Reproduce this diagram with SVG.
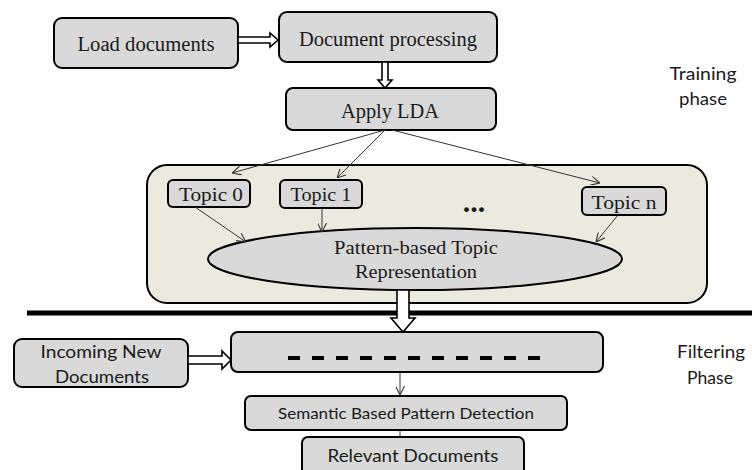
<svg xmlns="http://www.w3.org/2000/svg" width="752" height="470" viewBox="0 0 752 470">
<defs>
<style>
.box{fill:#d9d9d9;stroke:#000;stroke-width:2}
.serif{font-family:"Liberation Serif","Times New Roman",serif;fill:#1a1a1a}
.sans{font-family:Lato,"Liberation Sans",sans-serif;fill:#1a1a1a}
.thin{stroke:#333;stroke-width:1;fill:none;marker-end:url(#ah)}
.block{fill:#fff;stroke:#000;stroke-width:1.6;stroke-linejoin:miter}
</style>
<marker id="ah" viewBox="0 0 10 10" refX="10" refY="5" markerWidth="9" markerHeight="9" orient="auto" markerUnits="userSpaceOnUse">
<path d="M0,0 L10,5 L0,10" fill="none" stroke="#333" stroke-width="1.2"/>
</marker>
</defs>
<rect width="752" height="470" fill="#fff"/>

<g id="container">
<rect x="147" y="165" width="560" height="138" rx="20" fill="#ece9df" stroke="#000" stroke-width="2"/>
<text x="474" y="212" class="serif" font-size="30" font-weight="bold" text-anchor="middle">...</text>
</g>

<g id="load-documents">
<rect class="box" x="54" y="18" width="184" height="50" rx="8"/>
<text x="146" y="51" class="serif" font-size="20" text-anchor="middle" textLength="137" lengthAdjust="spacingAndGlyphs">Load documents</text>
</g>
<g id="document-processing">
<rect class="box" x="279" y="12" width="218" height="50" rx="8"/>
<text x="388" y="46" class="serif" font-size="20" text-anchor="middle" textLength="178" lengthAdjust="spacingAndGlyphs">Document processing</text>
</g>
<g id="apply-lda">
<rect class="box" x="286" y="88" width="210" height="42" rx="7"/>
<text x="390" y="118" class="serif" font-size="20" text-anchor="middle" textLength="98" lengthAdjust="spacingAndGlyphs">Apply LDA</text>
</g>
<g id="topic-0">
<rect class="box" x="168" y="180" width="82" height="27" rx="5"/>
<text x="211" y="201" class="serif" font-size="18" text-anchor="middle" textLength="64" lengthAdjust="spacingAndGlyphs">Topic 0</text>
</g>
<g id="topic-1">
<rect class="box" x="280" y="180" width="82" height="28" rx="5"/>
<text x="321" y="201" class="serif" font-size="18" text-anchor="middle" textLength="61" lengthAdjust="spacingAndGlyphs">Topic 1</text>
</g>
<g id="topic-n">
<rect class="box" x="582" y="187" width="84" height="28" rx="5"/>
<text x="624" y="209" class="serif" font-size="18" text-anchor="middle" textLength="65" lengthAdjust="spacingAndGlyphs">Topic n</text>
</g>
<g id="pattern-representation">
<ellipse cx="415" cy="259" rx="207" ry="31" fill="#d9d9d9" stroke="#000" stroke-width="2"/>
<text x="416" y="254" class="serif" font-size="18" text-anchor="middle" textLength="164" lengthAdjust="spacingAndGlyphs">Pattern-based Topic</text>
<text x="416" y="278" class="serif" font-size="18" text-anchor="middle" textLength="122" lengthAdjust="spacingAndGlyphs">Representation</text>
</g>

<g id="divider">
<line x1="27" y1="313" x2="752" y2="313" stroke="#000" stroke-width="5"/>
</g>

<g id="filter-box">
<rect class="box" x="231" y="332" width="372" height="40" rx="7"/>
<line x1="288" y1="358" x2="545" y2="358" stroke="#000" stroke-width="4" stroke-dasharray="12,12"/>
</g>
<g id="incoming-new-documents">
<rect class="box" x="14" y="339" width="174" height="48" rx="8"/>
<text x="101" y="358" class="sans" font-size="18" text-anchor="middle" textLength="121" lengthAdjust="spacingAndGlyphs">Incoming New</text>
<text x="102" y="383" class="sans" font-size="18" text-anchor="middle" textLength="94" lengthAdjust="spacingAndGlyphs">Documents</text>
</g>
<g id="semantic-detection">
<rect class="box" x="245" y="396" width="322" height="34" rx="6"/>
<text x="406" y="419" class="sans" font-size="16" text-anchor="middle" textLength="256" lengthAdjust="spacingAndGlyphs">Semantic Based Pattern Detection</text>
</g>
<g id="relevant-documents">
<rect class="box" x="302" y="437" width="222" height="42" rx="6"/>
<text x="413" y="462" class="sans" font-size="18" text-anchor="middle" textLength="171" lengthAdjust="spacingAndGlyphs">Relevant Documents</text>
</g>

<g id="labels">
<text x="703" y="80" class="sans" font-size="17" text-anchor="middle" textLength="67" lengthAdjust="spacingAndGlyphs">Training</text>
<text x="703" y="105" class="sans" font-size="17" text-anchor="middle" textLength="48" lengthAdjust="spacingAndGlyphs">phase</text>
<text x="711" y="358" class="sans" font-size="18" text-anchor="middle" textLength="68" lengthAdjust="spacingAndGlyphs">Filtering</text>
<text x="710" y="384" class="sans" font-size="18" text-anchor="middle" textLength="46" lengthAdjust="spacingAndGlyphs">Phase</text>
</g>

<g id="connectors">
<path class="block" d="M238,37 L270,37 L270,33 L278,40 L270,47 L270,43 L238,43 Z"/>
<path class="block" d="M382,62 L382,80 L378,80 L385,88 L392,80 L388,80 L388,62 Z"/>
<line class="thin" x1="385" y1="130" x2="232" y2="173"/>
<line class="thin" x1="385" y1="130" x2="337" y2="178"/>
<line class="thin" x1="392" y1="130" x2="600" y2="183"/>
<line class="thin" x1="195" y1="207" x2="246" y2="242"/>
<line class="thin" x1="322" y1="208" x2="322" y2="232"/>
<line class="thin" x1="618" y1="215" x2="596" y2="242"/>
<path class="block" d="M397,290 L397,318 L391,318 L403,332 L415,318 L409,318 L409,290 Z"/>
<path class="block" d="M188,356 L222,356 L222,351 L231,360 L222,369 L222,364 L188,364 Z"/>
<line class="thin" x1="400" y1="372" x2="400" y2="395"/>
<line x1="400" y1="430" x2="400" y2="437" stroke="#333" stroke-width="1"/>
</g>
</svg>
